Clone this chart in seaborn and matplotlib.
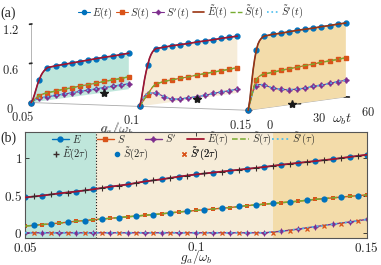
import numpy as np
import pandas as pd
import matplotlib
matplotlib.use("Agg")
import matplotlib.pyplot as plt
import seaborn as sns
from matplotlib.lines import Line2D

# ---- panel (a): time traces at three couplings ----
g_curves = [0.05, 0.1, 0.15]
t_line = [0, 1, 2, 3, 4, 5, 6, 7, 8, 9, 10, 15, 20, 25, 30, 35, 40, 45, 50, 55, 60]

e_005 = [0, 0.04, 0.11, 0.19, 0.27, 0.33, 0.39, 0.43, 0.46, 0.48, 0.50, 0.51, 0.515,
         0.52, 0.525, 0.53, 0.535, 0.54, 0.54, 0.545, 0.55]
s_005 = [0, 0.02, 0.04, 0.06, 0.075, 0.09, 0.10, 0.105, 0.11, 0.112, 0.115, 0.125, 0.135,
         0.14, 0.15, 0.155, 0.16, 0.17, 0.175, 0.18, 0.19]
sp_005 = [0, 0.015, 0.03, 0.04, 0.047, 0.05, 0.052, 0.053, 0.054, 0.055, 0.055, 0.058,
          0.061, 0.064, 0.067, 0.07, 0.073, 0.076, 0.078, 0.08, 0.083]

e_010 = [0, 0.10, 0.25, 0.40, 0.52, 0.62, 0.71, 0.77, 0.81, 0.835, 0.85, 0.855, 0.86,
         0.86, 0.86, 0.865, 0.865, 0.865, 0.87, 0.87, 0.87]
s_010 = [0, 0.035, 0.07, 0.105, 0.14, 0.165, 0.20, 0.24, 0.27, 0.29, 0.31, 0.33, 0.34,
         0.345, 0.35, 0.36, 0.365, 0.37, 0.375, 0.38, 0.39]
sp_010 = [0, 0.06, 0.11, 0.15, 0.17, 0.175, 0.18, 0.18, 0.178, 0.175, 0.173, 0.10, 0.04,
          0.03, 0.03, 0.03, 0.032, 0.045, 0.05, 0.053, 0.06]

e_015 = [0, 0.15, 0.38, 0.60, 0.77, 0.90, 0.99, 1.04, 1.07, 1.09, 1.10, 1.11, 1.11,
         1.115, 1.12, 1.12, 1.12, 1.125, 1.125, 1.13, 1.13]
s_015 = [0, 0.10, 0.20, 0.30, 0.38, 0.44, 0.48, 0.50, 0.51, 0.515, 0.52, 0.53, 0.54,
         0.55, 0.555, 0.565, 0.57, 0.58, 0.585, 0.59, 0.60]
sp_015 = [0, 0.10, 0.20, 0.28, 0.33, 0.36, 0.37, 0.37, 0.365, 0.36, 0.35, 0.29, 0.25,
          0.23, 0.22, 0.22, 0.23, 0.23, 0.24, 0.25, 0.255]

tau_star = [45, 35, 27]

# ---- panel (b): values vs coupling ----
g_b = [0.05, 0.055, 0.06, 0.065, 0.07, 0.075, 0.08, 0.085, 0.09, 0.095, 0.1,
       0.105, 0.11, 0.115, 0.12, 0.125, 0.13, 0.135, 0.14, 0.145, 0.15]
E_b = [0.475, 0.50, 0.53, 0.555, 0.585, 0.62, 0.65, 0.69, 0.72, 0.755, 0.785,
       0.81, 0.835, 0.86, 0.885, 0.915, 0.94, 0.965, 0.99, 1.02, 1.05]
S_b = [0.09, 0.11, 0.13, 0.155, 0.175, 0.195, 0.215, 0.235, 0.255, 0.28, 0.30,
       0.32, 0.34, 0.365, 0.385, 0.405, 0.425, 0.45, 0.47, 0.49, 0.51]
Sp_b = [0, 0, 0, 0, 0, 0, 0, 0, 0, 0, 0, 0, 0, 0, 0, 0.02, 0.05, 0.083, 0.115, 0.145, 0.18]

g_mid = [0.0525, 0.0575, 0.0625, 0.0675, 0.0725, 0.0775, 0.0825, 0.0875, 0.0925, 0.0975,
         0.1025, 0.1075, 0.1125, 0.1175, 0.1225, 0.1275, 0.1325, 0.1375, 0.1425, 0.1475]
E_2tau = [0.49, 0.515, 0.54, 0.57, 0.60, 0.635, 0.67, 0.705, 0.735, 0.77,
          0.80, 0.82, 0.85, 0.875, 0.90, 0.925, 0.95, 0.98, 1.005, 1.035]
S_2tau = [0.10, 0.12, 0.14, 0.165, 0.185, 0.205, 0.225, 0.245, 0.27, 0.29,
          0.31, 0.33, 0.355, 0.375, 0.395, 0.415, 0.44, 0.46, 0.48, 0.50]
Sp_2tau = [0, 0, 0, 0, 0, 0, 0, 0, 0, 0, 0, 0, 0, 0, 0, 0.025, 0.056, 0.087, 0.123, 0.155]

g_split1 = 0.0708
g_split2 = 0.1227

BLUE = "#0072BD"
ORANGE = "#D95319"
PURPLE = "#7E2F8E"
RED = "#A2142F"
BROWN = "#9A3412"
GREEN = "#77AC30"
LBLUE = "#4DBEEE"
TEAL = "#BFE6DB"
BEIGE = "#F6ECD8"
TAN = "#F3DCAA"
S4 = (4, 1, 0)

sns.set_theme(style="ticks")
plt.rcParams["font.family"] = ["Liberation Serif", "DejaVu Serif"]
plt.rcParams["mathtext.fontset"] = "cm"

fig = plt.figure(figsize=(3.81, 2.65), dpi=100)

# ================= panel (a) =================
ax3 = fig.add_axes([-0.01, 0.515, 1.0, 0.5], projection="3d", computed_zorder=False)
ax3.set_proj_type("ortho")
ax3.view_init(elev=4, azim=-63)
ax3.set_box_aspect((257, 227, 83), zoom=2.45)

mk = [i for i, t in enumerate(t_line) if t % 5 == 0]
fills = [TEAL, BEIGE, TAN]
line_cols = [RED, RED, BROWN]
series = [(e_005, s_005, sp_005), (e_010, s_010, sp_010), (e_015, s_015, sp_015)]
zero = np.zeros(len(t_line))
for g, (e, s, sp), fc, lc, tau in zip(g_curves, series, fills, line_cols, tau_star):
    gg = np.full(len(t_line), g)
    poly = ax3.fill_between(gg, t_line, e, gg, t_line, zero, color=fc, edgecolor="none", zorder=1)
    poly.set_clip_on(False)
    ax3.plot(gg, t_line, sp, color=PURPLE, marker=S4, ms=4, lw=0.8, markevery=mk, zorder=3, clip_on=False)
    ax3.plot(gg, t_line, sp, color=LBLUE, ls=":", lw=1.2, zorder=4, clip_on=False)
    ax3.plot(gg, t_line, s, color=ORANGE, marker="s", ms=3, lw=0.8, markevery=mk, zorder=3, clip_on=False)
    ax3.plot(gg, t_line, s, color=GREEN, ls="--", lw=1.0, zorder=4, clip_on=False)
    ax3.plot(gg, t_line, e, color=BLUE, marker="o", ms=3.5, lw=0.8, markevery=mk, zorder=3, clip_on=False)
    ax3.plot(gg, t_line, e, color=lc, lw=1.2, zorder=4, clip_on=False)
    ax3.plot([g], [tau], [0], marker="*", color="k", ms=6, ls="none", zorder=6, clip_on=False)

ax3.set_xlim(0.05, 0.15)
ax3.set_ylim(0, 60)
ax3.set_zlim(0, 1.2)
ax3.set_xticks([0.05, 0.1, 0.15])
ax3.set_xticklabels(["$0.05$", "$0.1$", "$0.15$"], fontsize=9)
ax3.set_yticks([0, 30, 60])
ax3.set_yticklabels(["$0$", "$30$", "$60$"], fontsize=9)
ax3.set_zticks([0, 0.6, 1.2])
ax3.set_zticklabels(["$0$", "$0.6$", "$1.2$"], fontsize=9)
ax3.set_xlabel(r"$g_a/\omega_b$", fontsize=10, labelpad=-9)
ax3.set_ylabel("")
ax3.zaxis.set_ticks_position("lower")
ax3.tick_params(axis="x", pad=-4, length=0)
ax3.tick_params(axis="y", pad=-3, length=0)
ax3.tick_params(axis="z", pad=-4.7, length=0)
for axis in (ax3.xaxis, ax3.yaxis, ax3.zaxis):
    axis.set_pane_color((1, 1, 1, 0))
    axis.pane.set_edgecolor("#dddddd")
    axis.line.set_color("#aaaaaa")
    axis.line.set_linewidth(0.6)
ax3.grid(False)
fig.text(342 / 381, 1 - 119 / 265, r"$\omega_b t$", fontsize=10, ha="center", va="center")

leg_a = [
    Line2D([], [], color=BLUE, marker="o", ms=3, lw=0.8, label="$E(t)$"),
    Line2D([], [], color=ORANGE, marker="s", ms=2.5, lw=0.8, label="$S(t)$"),
    Line2D([], [], color=PURPLE, marker=S4, ms=3.5, lw=0.8, label="$S'(t)$"),
    Line2D([], [], color=BROWN, lw=1.2, label=r"$\tilde{E}(t)$"),
    Line2D([], [], color=GREEN, ls="--", lw=1.0, label=r"$\tilde{S}(t)$"),
    Line2D([], [], color=LBLUE, ls=":", lw=1.2, label=r"$\tilde{S}'(t)$"),
]
fig.legend(handles=leg_a, loc="upper center", bbox_to_anchor=(0.50, 1.02), ncol=6,
           frameon=False, fontsize=7.5, handlelength=1.15, handletextpad=0.2,
           columnspacing=0.3, numpoints=1)
fig.text(0.0, 0.975, "(a)", fontsize=10, va="top")

# ================= panel (b) =================
ax = fig.add_axes([0.0656, 0.102, 0.897, 0.401])
ax.axvspan(0.05, g_split1, color=TEAL, lw=0, zorder=0)
ax.axvspan(g_split1, g_split2, color=BEIGE, lw=0, zorder=0)
ax.axvspan(g_split2, 0.15, color=TAN, lw=0, zorder=0)
ax.axvline(g_split1, color="k", ls=":", lw=0.8, zorder=1)

df = pd.DataFrame({"g": g_b, "E": E_b, "S": S_b, "Sp": Sp_b})
dm = pd.DataFrame({"g": g_mid, "E2": E_2tau, "S2": S_2tau, "Sp2": Sp_2tau})

sns.lineplot(data=df, x="g", y="E", color=BLUE, marker="o", markersize=4.5,
             markeredgewidth=0, lw=1.0, ax=ax, zorder=2)
sns.lineplot(data=df, x="g", y="S", color=ORANGE, marker="s", markersize=3.5,
             markeredgewidth=0, lw=1.0, ax=ax, zorder=2)
sns.lineplot(data=df, x="g", y="Sp", color=PURPLE, marker=S4, markersize=5,
             markeredgewidth=0, lw=1.0, ax=ax, zorder=2)
sns.lineplot(data=df, x="g", y="E", color=RED, lw=1.3, ax=ax, zorder=3)
sns.lineplot(data=df, x="g", y="S", color=GREEN, ls="--", lw=1.1, ax=ax, zorder=3)
sns.lineplot(data=df, x="g", y="Sp", color=LBLUE, ls=":", lw=1.3, ax=ax, zorder=3)
ax.plot(dm["g"], dm["E2"], ls="none", marker="+", color="#3a2a2a", ms=5, mew=0.8, zorder=4)
ax.plot(dm["g"], dm["S2"], ls="none", marker="o", color=BLUE, ms=4.5, mew=0, zorder=4)
ax.plot(dm["g"], dm["Sp2"], ls="none", marker="x", color=ORANGE, ms=3.5, mew=0.9, zorder=4)

ax.set_xlim(0.05, 0.15)
ax.set_ylim(-0.07, 1.36)
ax.set_xticks([0.05, 0.1, 0.15])
ax.set_xticklabels(["$0.05$", "$0.1$", "$0.15$"], fontsize=9.5)
ax.set_yticks([0, 0.5, 1])
ax.set_yticklabels(["$0$", "$0.5$", "$1$"], fontsize=9.5)
ax.set_xlabel(r"$g_a/\omega_b$", fontsize=9.5)
ax.xaxis.set_label_coords(0.5, -0.095)
ax.set_ylabel("")
ax.tick_params(direction="in", top=True, right=True, length=3, width=0.6, pad=2, colors="#222222")
for sp in ax.spines.values():
    sp.set_color("#555555")
    sp.set_linewidth(0.8)

# legend entries of (b), each at its own column slot (fixed-width columns)
leg_b = [
    (Line2D([], [], color=BLUE, marker="o", ms=3.5, lw=1.0, label="$E$"), 52, 139),
    (Line2D([], [], color=ORANGE, marker="s", ms=3, lw=1.0, label="$S$"), 97, 139),
    (Line2D([], [], color=PURPLE, marker=S4, ms=4, lw=1.0, label="$S'$"), 145, 139),
    (Line2D([], [], color=RED, lw=1.3, label=r"$\tilde{E}(\tau)$"), 187, 139),
    (Line2D([], [], color=GREEN, ls="--", lw=1.1, label=r"$\tilde{S}(\tau)$"), 232, 139),
    (Line2D([], [], color=LBLUE, ls=":", lw=1.3, label=r"$\tilde{S}'(\tau)$"), 272, 139),
    (Line2D([], [], color="#3a2a2a", marker="+", ms=4, ls="none", label=r"$\tilde{E}(2\tau)$"), 53, 154),
    (Line2D([], [], color=BLUE, marker="o", ms=3, ls="none", label=r"$\tilde{S}(2\tau)$"), 114, 154),
    (Line2D([], [], color=ORANGE, marker="x", ms=3, ls="none", label=r"$\tilde{S}'(2\tau)$"), 181, 154),
]
for h, px, py in leg_b:
    lg = ax.legend(handles=[h], loc="center left", frameon=False, fontsize=7.5,
                   handlelength=1.6 if h.get_linestyle() != "None" else 0.6,
                   handletextpad=0.3, borderpad=0, borderaxespad=0, numpoints=1,
                   bbox_to_anchor=(px / 381, 1 - py / 265), bbox_transform=fig.transFigure)
    ax.add_artist(lg)
fig.text(0.0, 0.505, "(b)", fontsize=10, va="top")

fig.savefig("out.png", dpi=100)
